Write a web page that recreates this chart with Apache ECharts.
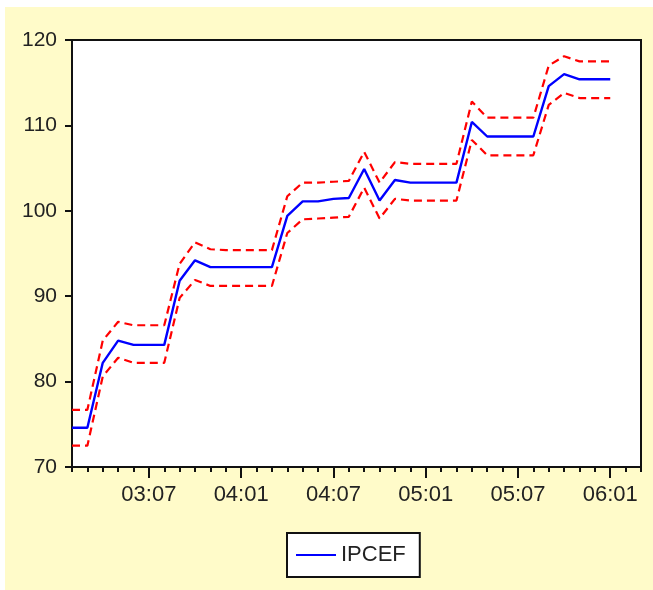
<!DOCTYPE html>
<html>
<head>
<meta charset="utf-8">
<script src="https://cdn.jsdelivr.net/npm/echarts@6/dist/echarts.min.js"></script>
<style>
html,body{margin:0;padding:0;background:#ffffff;}
#c{width:653px;height:590px;}
</style>
</head>
<body>
<div id="c"></div>
<script>
// Axis months (03:02 .. 06:03); data runs to 06:01
const months = ['03:02','03:03','03:04','03:05','03:06','03:07','03:08','03:09','03:10','03:11','03:12',
  '04:01','04:02','04:03','04:04','04:05','04:06','04:07','04:08','04:09','04:10','04:11','04:12',
  '05:01','05:02','05:03','05:04','05:05','05:06','05:07','05:08','05:09','05:10','05:11','05:12',
  '06:01','06:02','06:03'];
const tickLabels = ['03:07','04:01','04:07','05:01','05:07','06:01'];
const seriesName = 'IPCEF';
const ipcef = [74.6,74.6,82.2,84.8,84.3,84.3,84.3,91.8,94.2,93.4,93.4,93.4,93.4,93.4,
  99.4,101.1,101.1,101.4,101.5,104.9,101.2,103.6,103.3,103.3,103.3,103.3,
  110.4,108.7,108.7,108.7,108.7,114.6,116.0,115.4,115.4,115.4];
const upper = [76.7,76.7,84.8,87.0,86.6,86.6,86.6,93.8,96.3,95.5,95.4,95.4,95.4,95.4,
  101.7,103.3,103.3,103.4,103.5,106.9,103.3,105.7,105.5,105.5,105.5,105.5,
  112.8,110.9,110.9,110.9,110.9,117.0,118.1,117.5,117.5,117.5];
const lower = [72.5,72.5,80.6,82.8,82.2,82.2,82.2,89.8,91.9,91.2,91.2,91.2,91.2,91.2,
  97.4,99.0,99.1,99.2,99.3,102.7,99.1,101.4,101.2,101.2,101.2,101.2,
  108.3,106.5,106.5,106.5,106.5,112.4,113.8,113.2,113.2,113.2];
const yTicks = [70,80,90,100,110,120];

const FONT = '"Liberation Sans", Arial, sans-serif';
const isMajor = (idx, val) => tickLabels.indexOf(months[idx]) >= 0;

const chart = echarts.init(document.getElementById('c'), null, {renderer:'canvas'});
chart.setOption({
  animation:false,
  backgroundColor:'transparent',
  graphic:[{type:'rect', z:-10, shape:{x:5,y:7,width:648,height:583}, style:{fill:'#FFFBC9'}, silent:true}],
  grid:{left:72,right:12,top:40,bottom:123,show:true,backgroundColor:'#ffffff',borderColor:'#111',borderWidth:2},
  legend:{
    data:[seriesName], left:287, top:533, orient:'horizontal',
    backgroundColor:'#ffffff', borderColor:'#111', borderWidth:2,
    padding:[11,14,11,9], itemWidth:40, itemHeight:2, itemGap:10, icon:'rect',
    textStyle:{fontFamily:FONT,fontSize:22,color:'#222'}
  },
  xAxis:[
    {type:'category', data:months, boundaryGap:false, position:'bottom',
     axisLine:{show:true,lineStyle:{color:'#111',width:2}},
     axisTick:{show:true,interval:0,length:5,inside:false,lineStyle:{color:'#111',width:2}},
     axisLabel:{show:false}, splitLine:{show:false}},
    {type:'category', data:months, boundaryGap:false, position:'bottom', gridIndex:0,
     axisLine:{show:false},
     axisTick:{show:true,interval:isMajor,length:11,lineStyle:{color:'#111',width:2}},
     axisLabel:{show:true,interval:isMajor,margin:17,fontFamily:FONT,fontSize:22,color:'#222'},
     splitLine:{show:false}}
  ],
  yAxis:{type:'value', min:yTicks[0], max:yTicks[yTicks.length-1], interval:10,
    axisLine:{show:true,lineStyle:{color:'#111',width:2}},
    axisTick:{show:true,length:7,lineStyle:{color:'#111',width:2}},
    axisLabel:{margin:15,fontFamily:FONT,fontSize:21,color:'#222'},
    splitLine:{show:false}},
  series:[
    {name:'upper', type:'line', data:upper, xAxisIndex:0, showSymbol:false, symbol:'none',
     lineStyle:{color:'#ff0000',width:2.2,type:[8,5]}, z:2},
    {name:'lower', type:'line', data:lower, xAxisIndex:0, showSymbol:false, symbol:'none',
     lineStyle:{color:'#ff0000',width:2.2,type:[8,5]}, z:2},
    {name:seriesName, type:'line', data:ipcef, xAxisIndex:0, showSymbol:false, symbol:'none',
     color:'#0000ff', lineStyle:{color:'#0000ff',width:2.4}, z:3}
  ]
});
</script>
</body>
</html>
